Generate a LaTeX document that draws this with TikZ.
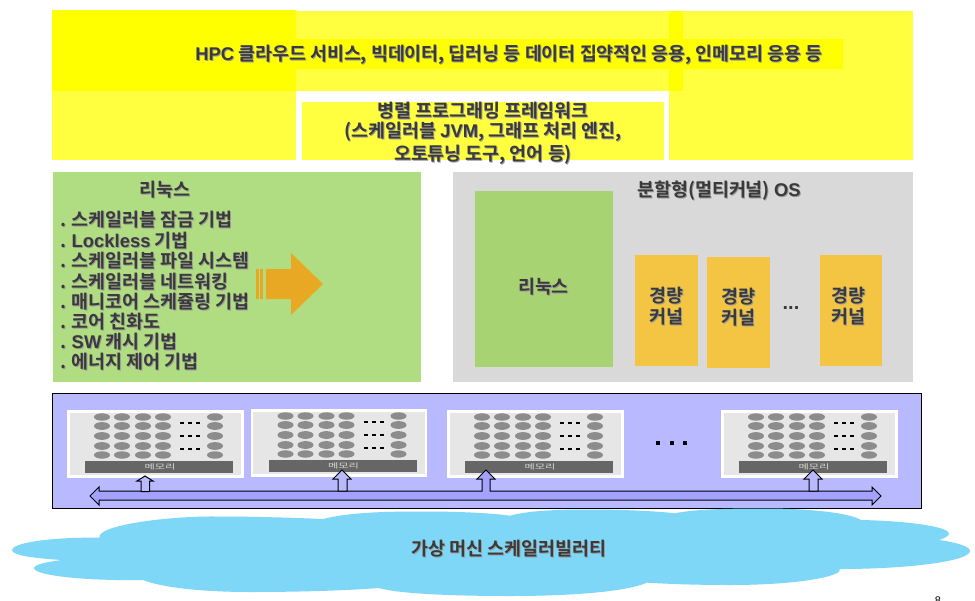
\documentclass[tikz,border=0pt]{standalone}
\usepackage{fontspec}
\setmainfont{Liberation Sans}
\newfontfamily\krf{Noto Sans CJK KR}[BoldFont={Noto Sans CJK KR Bold}]
\newcommand{\lat}[1]{{\rmfamily\bfseries #1}}
\definecolor{ystrong}{HTML}{FFFF00}
\definecolor{ylight}{HTML}{FFFF40}
\definecolor{greenpanel}{HTML}{B0DD82}
\definecolor{greybox}{HTML}{D9D9D9}
\definecolor{greeninner}{HTML}{A8D373}
\definecolor{orangebox}{HTML}{F4C542}
\definecolor{arrowor}{HTML}{E8A824}
\definecolor{purplepanel}{HTML}{B9B9FF}
\definecolor{busfill}{HTML}{A3A3FF}
\definecolor{cloudblue}{HTML}{7FD7F7}
\definecolor{chipgrey}{HTML}{E6E6E6}
\definecolor{coregrey}{HTML}{8C8C8C}
\definecolor{membar}{HTML}{666666}
\definecolor{inkdark}{HTML}{3A3A3A}
\definecolor{inkshadow}{HTML}{9A9A9A}
\newcommand{\sh}[1]{\leavevmode\rlap{\kern1pt\raisebox{-1pt}{\color{inkshadow}#1}}{\color{inkdark}#1}}
\tikzset{
  x=1pt,y=-1pt,
  flat/.style={draw=none,inner sep=0pt},
  lbl/.style={inner sep=0pt,font=\krf\bfseries\fontsize{#1}{#1}\selectfont},
  lbl/.default=18.4,
  wire/.style={draw=black,line width=1pt,line join=miter},
  corecell/.style={fill=coregrey,draw=none},
}
\newcommand{\chip}[3]{%
  \begin{scope}[shift={(#1,#2)}]
    \node[name=#3,fill=chipgrey,draw=white,line width=2.5pt,minimum width=174pt,minimum height=65pt,anchor=north west,inner sep=0pt] at (1.25,1.25) {};
    \foreach \dy/\ry in {8/3.7,17/3.9,27/3.9,37/3.9,46/3.7}
      \foreach \dx in {36,56,77,97,149}
        \fill[corecell] (\dx,\dy) ellipse [x radius=8,y radius=\ry];
    \foreach \dy in {14,27,40}
      \foreach \dx in {114,122,130}
        \fill[black] (\dx,\dy-0.6) rectangle ++(4.2,1.3);
    \fill[membar] (19,52) rectangle (167,64);
    \node[text=white!85!black,font=\krf\fontsize{7}{7}\selectfont,inner sep=0pt] at (94,58) {\scalebox{1.6}[1]{메모리}};
  \end{scope}}
\begin{document}
\begin{tikzpicture}
\useasboundingbox (0,0) rectangle (975,600);
\fill[white] (0,0) rectangle (975,600);
% page number, cut by the edge
\begin{scope}
  \clip (0,0) rectangle (975,600);
  \node[font=\rmfamily\fontsize{11}{11}\selectfont,inner sep=0pt,anchor=north] (pagenum) at (938,597) {8};
\end{scope}
% top yellow
\fill[ylight] (52,10.5) rectangle (296,160);
\fill[ylight] (296,10.5) rectangle (683,91);
\fill[ylight] (669,10.5) rectangle (913,160);
\fill[ylight] (302,102) rectangle (664,160);
\fill[ystrong] (52,10) rectangle (296,91);
\fill[ystrong] (669,10.5) rectangle (683,91);
\fill[ystrong] (182,38.5) rectangle (843,69);
\node[lbl] (hpc) at (509,55) {\sh{\lat{HPC} 클라우드 서비스, 빅데이터, 딥러닝 등 데이터 집약적인 응용, 인메모리 응용 등}};
\node[lbl,align=center] (fw) at (483,134) {\sh{병렬 프로그래밍 프레임워크}\\[1.5pt]\sh{(스케일러블 \lat{JVM}, 그래프 처리 엔진,}\\[1.5pt]\sh{오토튜닝 도구, 언어 등)}};
% green panel
\node[flat,fill=greenpanel,minimum width=368pt,minimum height=210pt,anchor=north west] (linuxp) at (53,172) {};
\node[lbl] (linuxt) at (165,190) {\sh{리눅스}};
\foreach \yy/\itemtxt in {220/스케일러블 잠금 기법,
  241/\lat{Lockless} 기법,
  261/스케일러블 파일 시스템,
  282/스케일러블 네트워킹,
  302/매니코어 스케쥴링 기법,
  322/코어 친화도,
  342/\lat{SW} 캐시 기법,
  362/에너지 제어 기법}
  \node[lbl,anchor=west] at (60,\yy) {\sh{. \itemtxt}};
% transition arrow
\fill[arrowor] (256,269) rectangle (258.5,299);
\fill[arrowor] (260,269) rectangle (263,299);
\fill[arrowor] (266,269) -- (291,269) -- (291,253) -- (323,284) -- (291,315) -- (291,299) -- (266,299) -- cycle;
% grey panel
\node[flat,fill=greybox,minimum width=460pt,minimum height=210pt,anchor=north west] (osp) at (453,172) {};
\node[lbl] (ost) at (719,191) {\sh{분할형(멀티커널) \lat{OS}}};
\node[flat,fill=greeninner,minimum width=138pt,minimum height=176pt,anchor=north west] (lin2) at (475,191) {};
\node[lbl] at (543.5,287) {\sh{리눅스}};
\foreach \nm/\xx/\yy/\boxw in {ka/635/255/63,kb/707/257/63,kc/820/255/62}{
  \node[flat,fill=orangebox,minimum width=\boxw pt,minimum height=111pt,anchor=north west] (\nm) at (\xx,\yy) {};
}
\foreach \xx/\yy in {666.5/306.5,738/307.5,848.5/306.5}
  \node[lbl,align=center] at (\xx,\yy) {\sh{경량}\\[2.5pt]\sh{커널}};
\node[inner sep=0pt,font=\rmfamily\bfseries\fontsize{20}{20}\selectfont] (kdots) at (791,308) {\color{inkdark}...};
% processor panel
\node[flat,draw=black,line width=1.2pt,fill=purplepanel,minimum width=869pt,minimum height=115pt,anchor=north west] (cpu) at (52,393) {};
\chip{66}{409}{ca}
\chip{249.5}{408}{cb}
\chip{446}{409}{cc}
\chip{720}{409}{cd}
\foreach \xx in {658,672,685} \fill[black] (\xx-2,441) rectangle (\xx+2,445);
% bus with branch into third chip
\path[wire,fill=busfill] (90,496) -- (99,487) -- (99,491) -- (482,491) -- (482,479) -- (477,479) -- (486,470) -- (495,479) -- (490,479) -- (490,491) -- (872,491) -- (872,487) -- (881,496) -- (872,505) -- (872,500) -- (99,500) -- (99,505) -- cycle;
% branch arrows
\path[wire,fill=purplepanel] (141,491.5) -- (141,481) -- (137,481) -- (145,476) -- (153,481) -- (149.5,481) -- (149.5,491.5) -- cycle;
\path[wire,fill=purplepanel] (338,491) -- (338,479) -- (333,479) -- (342,470) -- (351,479) -- (347,479) -- (347,491) -- cycle;
\path[wire,fill=purplepanel] (809,491) -- (809,479) -- (804,479) -- (813,470) -- (822,479) -- (818,479) -- (818,491) -- cycle;
% cloud
\path[fill=cloudblue] (62,560) .. controls (30,558) and (12,555) .. (12,550)
 .. controls (12,543) and (50,537) .. (99.5,537.7)
 .. controls (96,525) and (170,516) .. (215,516.5)
 .. controls (260,516.5) and (300,518) .. (323,519)
 .. controls (350,512) and (390,511.5) .. (423,511.5)
 .. controls (460,511.5) and (490,513) .. (510,515.7)
 .. controls (530,510) and (565,509.5) .. (590,509.5)
 .. controls (620,509.5) and (655,511) .. (675,513.3)
 .. controls (695,509) and (730,508.5) .. (765,508.5)
 .. controls (810,508.5) and (850,513) .. (861,520)
 .. controls (910,521) and (949,527) .. (949,533.5)
 .. controls (949,536) and (945,538) .. (939,540)
 .. controls (960,543) and (970,547) .. (970,551)
 .. controls (970,561) and (910,569) .. (840,569)
 .. controls (843,576) and (800,585) .. (730,585)
 .. controls (695,585) and (670,584) .. (647,582.7)
 .. controls (625,592) and (570,596) .. (510,596)
 .. controls (455,596) and (400,594) .. (379,588)
 .. controls (340,591) and (290,592) .. (250,592)
 .. controls (200,592) and (160,587) .. (143,580)
 .. controls (90,581) and (34,576) .. (34,568)
 .. controls (34,565) and (45,562) .. (62,560) -- cycle;
\node[lbl] (vm) at (509,549) {\sh{가상 머신 스케일러빌러티}};
\end{tikzpicture}
\end{document}
